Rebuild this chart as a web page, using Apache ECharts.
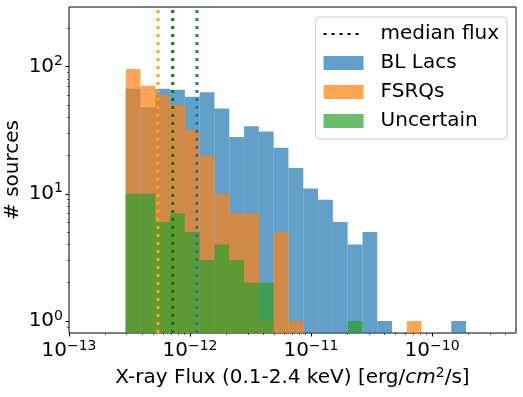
<!DOCTYPE html>
<html>
<head>
<meta charset="utf-8">
<script src="https://cdn.jsdelivr.net/npm/echarts@6/dist/echarts.min.js"></script>
<style>
html, body { margin: 0; padding: 0; background: #fff; }
#chart { width: 523px; height: 397px; }
</style>
</head>
<body>
<div id="chart"></div>
<script>
// histogram bins (log-spaced between first and last edge, erg/cm2/s)
var bin_first = 2.94e-13;
var bin_last = 1.91e-10;
var bin_count = 23;

// number of sources per bin
var bl_lac_counts    = [67, 48, 67, 66, 58, 63, 47, 28, 34, 31, 23, 16, 11, 9, 6, 4, 5, 1, 0, 0, 0, 0, 1];
var fsrq_counts      = [96, 71, 60, 50, 32, 20, 10, 7, 7, 1, 5, 1, 0, 0, 0, 0, 0, 0, 0, 1, 0, 0, 0];
var uncertain_counts = [10, 10, 6, 7, 5, 3, 4, 3, 2, 2, 0, 0, 0, 0, 0, 1, 0, 0, 0, 0, 0, 0, 0];

// median flux of each class
var median_flux = [5.44e-13, 7.2e-13, 1.14e-12];
var median_colors = ['#ffa500', '#008000', '#1f77b4'];

// axis range and ticks
var x_range = [1e-13, 4.94e-10];
var y_range = [0.804, 295];
var x_major = [1e-13, 1e-12, 1e-11, 1e-10];
var y_major = [1, 10, 100];

var FONT = 'DejaVu Sans';
var log10 = function(v) { return Math.log(v) / Math.LN10; };
var X_MIN = log10(x_range[0]), X_MAX = log10(x_range[1]);
var Y_MIN = log10(y_range[0]), Y_MAX = log10(y_range[1]);

/**
 * 对数坐标的次刻度 (2..9 x 10^n)
 */
function minorTicks(lo, hi) {
    var out = [];
    for (var n = Math.floor(lo) - 1; n <= Math.ceil(hi); n++) {
        for (var k = 2; k <= 9; k++) {
            var v = n + log10(k);
            if (v >= lo && v <= hi) out.push(v);
        }
    }
    return out;
}

/**
 * 直方图数据 [左边界, 右边界, log(计数)]
 */
function histData(counts) {
    var step = (log10(bin_last) - log10(bin_first)) / bin_count;
    var data = [];
    for (var i = 0; i < counts.length; i++) {
        if (counts[i] > 0) {
            var lo = log10(bin_first) + i * step;
            data.push([lo, lo + step, log10(counts[i])]);
        }
    }
    return data;
}

function histSeries(name, color, fill, counts) {
    return {
        name: name,
        type: 'custom',
        xAxisIndex: 0,
        yAxisIndex: 0,
        itemStyle: { color: color },
        encode: { x: [0, 1], y: 2 },
        silent: true,
        renderItem: function(params, api) {
            var p0 = api.coord([api.value(0), api.value(2)]);
            var p1 = api.coord([api.value(1), Y_MIN]);
            return {
                type: 'rect',
                shape: { x: p0[0], y: p0[1], width: p1[0] - p0[0], height: p1[1] - p0[1] },
                style: { fill: fill }
            };
        },
        data: histData(counts)
    };
}

function expLabel(v) {
    var e = Math.round(v);
    return '{b|10}{s|' + (e < 0 ? '\u2212' + (-e) : e) + '}';
}

var labelRich = {
    b: { fontSize: 20, fontFamily: FONT, color: '#000' },
    s: { fontSize: 14, fontFamily: FONT, color: '#000', padding: [0, 0, 10, 0] }
};

var series = [
    histSeries('BL Lacs', '#1f77b4', 'rgba(31,119,180,0.7)', bl_lac_counts),
    histSeries('FSRQs', '#ff7f0e', 'rgba(255,127,14,0.7)', fsrq_counts),
    histSeries('Uncertain', '#2ca02c', 'rgba(44,160,44,0.7)', uncertain_counts),
    {
        name: 'median flux',
        type: 'line',
        symbol: 'none',
        itemStyle: { color: '#000' },
        lineStyle: { color: '#000', width: 3, type: [3, 5] },
        data: []
    }
];
for (var i = 0; i < median_flux.length; i++) {
    series.push({
        name: 'median_' + i,
        type: 'line',
        symbol: 'none',
        silent: true,
        z: 5,
        lineStyle: { color: median_colors[i], width: 3, type: [3, 5], cap: 'butt' },
        data: [[log10(median_flux[i]), Y_MIN], [log10(median_flux[i]), Y_MAX]]
    });
}

var chart = echarts.init(document.getElementById('chart'));
var option = {
    animation: false,
    backgroundColor: '#fff',
    grid: {
        left: 69, right: 7, top: 7, bottom: 64,
        outerBoundsMode: 'none',
        containLabel: false,
        show: true, borderColor: '#000', borderWidth: 1, backgroundColor: 'transparent'
    },
    legend: {
        orient: 'vertical',
        right: 16,
        top: 17,
        padding: [7, 8, 8, 7],
        itemWidth: 40,
        itemHeight: 14,
        itemGap: 9,
        borderColor: '#cccccc',
        borderWidth: 1,
        borderRadius: 4,
        backgroundColor: 'rgba(255,255,255,0.8)',
        textStyle: { fontSize: 20, fontFamily: FONT, color: '#000', padding: [0, 0, 0, 12] },
        data: [
            { name: 'median flux', itemStyle: { opacity: 0 } },
            { name: 'BL Lacs', icon: 'rect', itemStyle: { opacity: 0.7 } },
            { name: 'FSRQs', icon: 'rect', itemStyle: { opacity: 0.7 } },
            { name: 'Uncertain', icon: 'rect', itemStyle: { opacity: 0.7 } }
        ]
    },
    xAxis: [{
        type: 'value',
        position: 'bottom',
        min: X_MIN, max: X_MAX,
        axisLine: { show: false, onZero: false },
        splitLine: { show: false },
        axisTick: { show: true, length: 3.5, customValues: x_major.map(log10), lineStyle: { color: '#000' } },
        axisLabel: { customValues: x_major.map(log10), margin: 6, formatter: expLabel, rich: labelRich },
        name: 'X-ray Flux (0.1-2.4 keV) [erg/{i|cm}{s|2}/s]',
        nameLocation: 'middle',
        nameGap: 33,
        nameTextStyle: {
            fontSize: 20, fontFamily: FONT, color: '#000',
            rich: {
                i: { fontSize: 20, fontFamily: FONT, fontStyle: 'italic', color: '#000' },
                s: { fontSize: 14, fontFamily: FONT, color: '#000', padding: [0, 0, 10, 0] }
            }
        }
    }, {
        type: 'value',
        position: 'bottom',
        min: X_MIN, max: X_MAX,
        axisLine: { show: false, onZero: false },
        splitLine: { show: false },
        axisLabel: { show: false },
        axisTick: { show: true, length: 2, customValues: minorTicks(X_MIN, X_MAX), lineStyle: { color: '#000', width: 0.6 } }
    }],
    yAxis: [{
        type: 'value',
        position: 'left',
        min: Y_MIN, max: Y_MAX,
        axisLine: { show: false, onZero: false },
        splitLine: { show: false },
        axisTick: { show: true, length: 3.5, customValues: y_major.map(log10), lineStyle: { color: '#000' } },
        axisLabel: { customValues: y_major.map(log10), margin: 6, formatter: expLabel, rich: labelRich },
        name: '# sources',
        nameLocation: 'middle',
        nameMoveOverlap: false,
        nameGap: 46,
        nameTextStyle: { fontSize: 20, fontFamily: FONT, color: '#000' }
    }, {
        type: 'value',
        position: 'left',
        min: Y_MIN, max: Y_MAX,
        axisLine: { show: false, onZero: false },
        splitLine: { show: false },
        axisLabel: { show: false },
        axisTick: { show: true, length: 2, customValues: minorTicks(Y_MIN, Y_MAX), lineStyle: { color: '#000', width: 0.6 } }
    }],
    series: series
};
chart.setOption(option);
</script>
</body>
</html>
